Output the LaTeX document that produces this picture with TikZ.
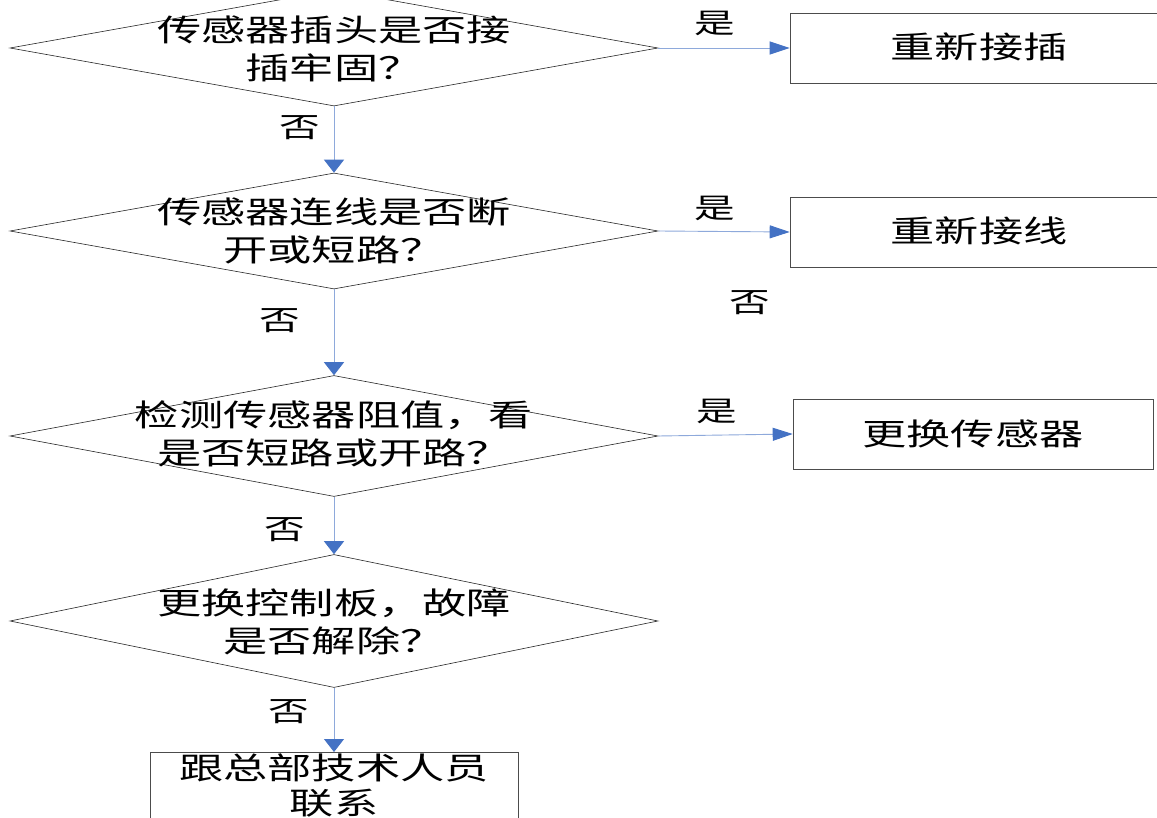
\documentclass[tikz,border=0pt]{standalone}
\usepackage{fontspec}
\newfontfamily\cjk[FakeStretch=1.45]{Noto Sans CJK SC}
\usetikzlibrary{shapes.geometric,arrows.meta}
\definecolor{arrowblue}{HTML}{4472C4}
\definecolor{lineblue}{HTML}{8EA9DB}
\begin{document}
\begin{tikzpicture}[x=1pt,y=-1pt,
  dia/.style={diamond, draw=black!85, line width=0.6pt, minimum width=648pt, minimum height=#1, inner sep=0pt},
  boxn/.style={draw=black!70, line width=0.6pt, minimum width=#1, minimum height=70pt, inner sep=0pt},
  txt/.style={font=\cjk\fontsize{30.5}{38}\selectfont, align=center, inner sep=0pt},
  lbl/.style={font=\cjk\fontsize{28}{30}\selectfont, inner sep=0pt},
  harr/.style={draw=lineblue, line width=0.9pt, -{Triangle[length=20pt,width=13pt,color=arrowblue,fill=arrowblue]}},
  varr/.style={draw=lineblue, line width=0.9pt, -{Triangle[length=13pt,width=20pt,color=arrowblue,fill=arrowblue]}}]
\useasboundingbox (0,0) rectangle (1157,818);
\clip (0,0) rectangle (1157,818);
\fill[white] (0,0) rectangle (1157,818);
% decisions
\node[dia=116pt] (d1) at (334,48) {};
\node[txt] (d1t) at (334,49) {传感器插头是否接\\插牢固？};
\node[dia=116pt] (d2) at (334,231) {};
\node[txt] (d2t) at (334,231) {传感器连线是否断\\开或短路？};
\node[dia=121pt] (d3) at (334,436) {};
\node[txt] (d3t) at (334,434) {检测传感器阻值，看\\是否短路或开路？};
\node[dia=133pt] (d4) at (334,621) {};
\node[txt] (d4t) at (334,622) {更换控制板，故障\\是否解除？};
% boxes
\node[boxn=378pt] (b1) at (979,48) {};
\node[txt] (b1t) at (979,47) {重新接插};
\node[boxn=378pt] (b2) at (979,232) {};
\node[txt] (b2t) at (979,231) {重新接线};
\node[boxn=360pt] (b3) at (973,434) {};
\node[txt] (b3t) at (973,434) {更换传感器};
\node[draw=black!70, line width=0.6pt, minimum width=368pt, minimum height=100pt, inner sep=0pt, anchor=north] (b4) at (334,752) {};
\node[txt, font=\cjk\fontsize{30.5}{35}\selectfont] (b4t) at (334,785) {跟总部技术人员\\联系};
% connectors
\draw[harr] (d1.east) -- (b1.west);
\draw[harr] (d2.east) -- (b2.west);
\draw[harr] (d3.east) -- (b3.west);
\draw[varr] (d1.south) -- (d2.north);
\draw[varr] (d2.south) -- (d3.north);
\draw[varr] (d3.south) -- (d4.north);
\draw[varr] (d4.south) -- (b4.north);
% labels
\node[lbl] (y1) at (715,23) {是};
\node[lbl] (y2) at (715,208) {是};
\node[lbl] (y3) at (717,411) {是};
\node[lbl] (n1) at (300,128) {否};
\node[lbl] (n2) at (280,321) {否};
\node[lbl] (n3) at (285,530) {否};
\node[lbl] (n4) at (289,712) {否};
\node[lbl] (n5) at (750,303) {否};
\end{tikzpicture}
\end{document}
